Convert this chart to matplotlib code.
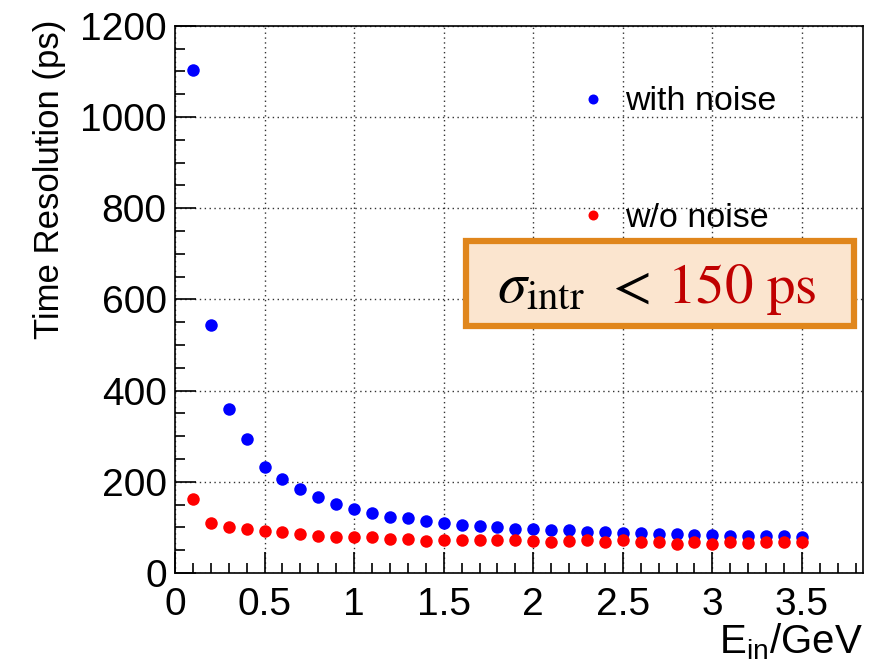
import matplotlib
matplotlib.use("Agg")
import matplotlib.pyplot as plt
from matplotlib.patches import FancyBboxPatch
from matplotlib.ticker import MultipleLocator

plt.rcParams['font.family'] = ['Liberation Sans', 'DejaVu Sans']
plt.rcParams['mathtext.fontset'] = 'custom'
plt.rcParams['mathtext.rm'] = 'Liberation Sans'
plt.rcParams['mathtext.it'] = 'Liberation Sans:italic'

# Beam energy (GeV)
energy = [0.1, 0.2, 0.3, 0.4, 0.5, 0.6, 0.7, 0.8, 0.9, 1.0,
          1.1, 1.2, 1.3, 1.4, 1.5, 1.6, 1.7, 1.8, 1.9, 2.0,
          2.1, 2.2, 2.3, 2.4, 2.5, 2.6, 2.7, 2.8, 2.9, 3.0,
          3.1, 3.2, 3.3, 3.4, 3.5]

# Time resolution (ps)
with_noise = [1103, 543, 359, 294, 233, 206, 185, 167, 152, 141,
              131, 123, 120, 114, 109, 106, 103, 100, 96, 96,
              94, 94, 90, 90, 88, 88, 85, 85, 84, 84,
              81, 81, 82, 81, 78]
without_noise = [163, 109, 102, 96, 92, 89, 85, 82, 80, 78,
                 78, 75, 75, 71, 72, 72, 72, 73, 73, 71,
                 69, 71, 73, 69, 73, 69, 69, 64, 69, 64,
                 69, 66, 69, 69, 69]

labels = ["with noise", "w/o noise"]
x_ticks = [0, 0.5, 1, 1.5, 2, 2.5, 3, 3.5]
x_tick_labels = ["0", "0.5", "1", "1.5", "2", "2.5", "3", "3.5"]
y_ticks = [0, 200, 400, 600, 800, 1000, 1200]

fig = plt.figure(figsize=(8.84, 6.71), dpi=100)
ax = fig.add_axes([0.198, 0.146, 0.778, 0.8157])

ax.plot(energy, with_noise, 'o', color='#0000ff', markersize=9,
        markeredgewidth=0, label=labels[0], zorder=3)
ax.plot(energy, without_noise, 'o', color='#ff0000', markersize=9,
        markeredgewidth=0, label=labels[1], zorder=3)

ax.set_xlim(0, 3.84)
ax.set_ylim(0, 1200)
ax.set_xticks(x_ticks)
ax.set_xticklabels(x_tick_labels)
ax.set_yticks(y_ticks)
ax.xaxis.set_minor_locator(MultipleLocator(0.1))
ax.yaxis.set_minor_locator(MultipleLocator(50))
ax.tick_params(which='both', direction='in', top=False, right=False,
               labelsize=28, width=1.2, color='black')
ax.tick_params(which='major', length=15)
ax.tick_params(which='minor', length=7)
ax.tick_params(axis='x', pad=10)
ax.tick_params(axis='y', pad=6)
for s in ax.spines.values():
    s.set_linewidth(1.2)

ax.grid(True, which='major', linestyle=(0, (1, 2.5)), linewidth=1.0,
        color='black', alpha=0.8)
ax.set_axisbelow(True)

ax.set_ylabel("Time Resolution (ps)", fontsize=25, loc='top')
ax.yaxis.set_label_coords(-0.158, 1.012)
ax.set_xlabel(r"E$_{\mathrm{in}}$/GeV", fontsize=29, loc='right')
ax.xaxis.set_label_coords(1.0, -0.088)

ax.legend(loc='upper left', bbox_to_anchor=(0.583, 0.889), frameon=False,
          fontsize=24.5, borderpad=0, handlelength=1.0, handletextpad=0.45,
          labelspacing=2.5, markerscale=0.8, borderaxespad=0)

box = FancyBboxPatch((0.423, 0.452), 0.564, 0.154,
                     boxstyle='square,pad=0', transform=ax.transAxes,
                     facecolor='#fbe5cf', edgecolor='#e0861c',
                     linewidth=4.5, zorder=4)
ax.add_patch(box)
ax.text(0.468, 0.494, r"$\sigma_{\mathrm{intr}}$", transform=ax.transAxes,
        fontsize=42, color='black', va='baseline', ha='left',
        math_fontfamily='stix', zorder=5)
ax.text(0.624, 0.494, r"$<$", transform=ax.transAxes,
        fontsize=41, color='black', va='baseline', ha='left',
        math_fontfamily='stix', zorder=5)
ax.text(0.715, 0.494, r"$\mathrm{150\ ps}$", transform=ax.transAxes,
        fontsize=41, color='#c00000', va='baseline', ha='left',
        math_fontfamily='stix', zorder=5)

fig.savefig("out.png", dpi=100, facecolor='white')
